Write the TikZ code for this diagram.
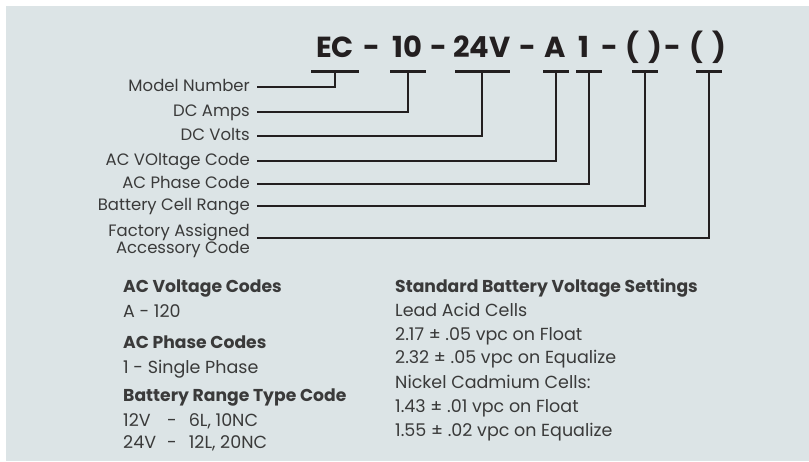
\documentclass[tikz,border=0pt]{standalone}
\usepackage{fontspec}
\setmainfont{Poppins}
\definecolor{PanelGray}{RGB}{220,228,230}
\definecolor{InkGray}{RGB}{58,58,58}
\definecolor{BarInk}{RGB}{35,31,32}
\usetikzlibrary{positioning}
\tikzset{>=latex}
\tikzset{codenodes/.style={anchor=base,inner sep=0pt,text=BarInk,font=\fontsize{29}{32}\selectfont\bfseries}}
\tikzset{codebar/.style={fill=BarInk,inner sep=0pt,minimum height=3pt}}
\tikzset{labnodes/.style={anchor=east,inner sep=0pt,text=InkGray,text height=8pt,text depth=0pt,font=\fontsize{16.5}{15}\selectfont}}
\tikzset{leader/.style={line width=1.7pt,BarInk}}
\tikzset{headnodes/.style={anchor=base west,inner sep=0pt,text=InkGray,font=\fontsize{17.2}{19}\selectfont\bfseries}}
\tikzset{infonodes/.style={anchor=base west,inner sep=0pt,text=InkGray,font=\fontsize{17.5}{19}\selectfont}}

\begin{document}
\begin{tikzpicture}[x=1pt,y=-1pt]
        \useasboundingbox (0,0) rectangle (809,461);
        \fill[PanelGray] (6,6) rectangle (809,461);
        % model code
        \node[codenodes](cEC) at (335,57) {EC};
        \node[codenodes] at (372,57) {-};
        \node[codenodes](cAmp) at (407,57) {10};
        \node[codenodes] at (439,57) {-};
        \node[codenodes](cVolt) at (482,57) {24V};
        \node[codenodes] at (528,57) {-};
        \node[codenodes](cAC) at (555,57) {A};
        \node[codenodes](cPh) at (584,57) {1};
        \node[codenodes] at (610,57) {-};
        \node[codenodes](cBat) at (644,57) {(\,\,)};
        \node[codenodes] at (673,57) {-};
        \node[codenodes](cAcc) at (708,57) {(\,\,)};
        \node[codebar, minimum width=48pt](b1) at (335,71) {};
        \node[codebar, minimum width=36pt](b2) at (408,71) {};
        \node[codebar, minimum width=55pt](b3) at (482,71) {};
        \node[codebar, minimum width=26pt](b4) at (556,71) {};
        \node[codebar, minimum width=26pt](b5) at (589,71) {};
        \node[codebar, minimum width=26pt](b6) at (645,71) {};
        \node[codebar, minimum width=26pt](b7) at (709,71) {};
        % labels
        \node[labnodes](mn) at (250, 87) {Model Number};
        \node[labnodes](da) at (250,112) {DC Amps};
        \node[labnodes](dv) at (250,136) {DC Volts};
        \node[labnodes](av) at (250,161) {AC VOltage Code};
        \node[labnodes](ap) at (250,184) {AC Phase Code};
        \node[labnodes](bc) at (250,206) {Battery Cell Range};
        \node[labnodes, text height=, text depth=, align=right](fa) at (250,241) {Factory Assigned\\Accessory Code};
        \draw[leader] ([xshift=7pt]mn.east) -| (b1.south);
        \draw[leader] ([xshift=7pt]da.east) -| (b2.south);
        \draw[leader] ([xshift=7pt]dv.east) -| (b3.south);
        \draw[leader] ([xshift=7pt]av.east) -| (b4.south);
        \draw[leader] ([xshift=7pt]ap.east) -| (b5.south);
        \draw[leader] ([xshift=7pt]bc.east) -| (b6.south);
        \draw[leader] ([xshift=7pt,yshift=3pt]fa.east) -| (b7.south);
        % code tables
        \node[headnodes](acvH) at (123,292) {AC Voltage Codes};
        \node[infonodes](acv1) at (123,317) {A - 120};
        \node[headnodes](acpH) at (123,348) {AC Phase Codes};
        \node[infonodes](acp1) at (123,373) {1 - Single Phase};
        \node[headnodes](brH) at (123,401) {Battery Range Type Code};
        \node[infonodes](br1) at (123,426) {\makebox[44pt][l]{12V}-\hspace{12pt}6L, 10NC};
        \node[infonodes](br2) at (123,448) {\makebox[44pt][l]{24V}-\hspace{12pt}12L, 20NC};
        \node[headnodes](sbH) at (395,292) {Standard Battery Voltage Settings};
        \node[infonodes](sb1) at (395,316) {Lead Acid Cells};
        \node[infonodes](sb2) at (395,340) {2.17 ± .05 vpc on Float};
        \node[infonodes](sb3) at (395,363) {2.32 ± .05 vpc on Equalize};
        \node[infonodes](sb4) at (395,388) {Nickel Cadmium Cells:};
        \node[infonodes](sb5) at (395,412) {1.43 ± .01 vpc on Float};
        \node[infonodes](sb6) at (395,436) {1.55 ± .02 vpc on Equalize};
    \end{tikzpicture}
\end{document}
